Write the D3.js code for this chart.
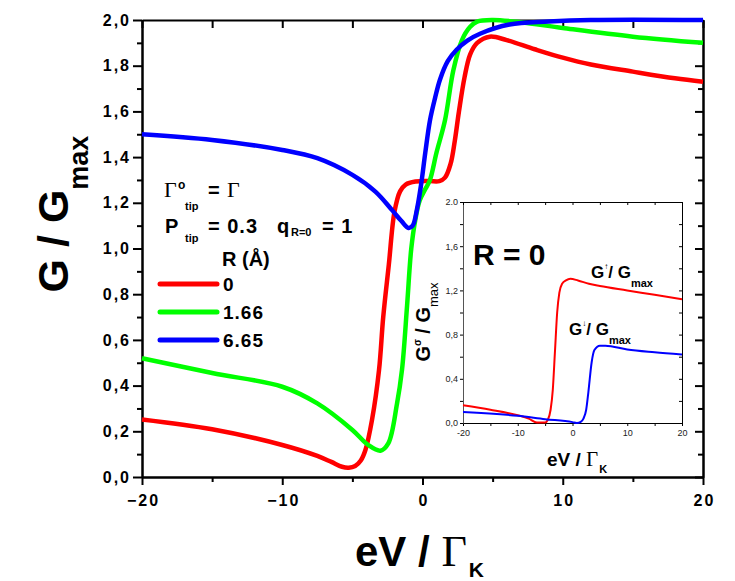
<!DOCTYPE html>
<html>
<head>
<meta charset="utf-8">
<script src="https://cdn.jsdelivr.net/npm/d3@7"></script>
<style>
  body { margin: 0; background: #fff; }
  svg { display: block; }
  text { font-family: "Liberation Sans", Arial, sans-serif; }
</style>
</head>
<body>
<div id="chart"></div>
<script>
// main panel: G / Gmax vs eV / Gamma_K for three tip distances R
const evR0   = [-20, -15, -10, -7.5, -6.5, -5.74, -5.26, -4.8, -4.4, -4.07, -3.6, -3.1, -2.8, -2.4, -2.0, -1.6, -1.2, -0.5, 0.5, 1.2, 1.6, 2.0, 2.3, 2.6, 3.0, 3.4, 3.9, 4.8, 6, 8, 10, 12, 15, 18, 20];
const gR0    = [0.252, 0.209, 0.14, 0.092, 0.066, 0.045, 0.041, 0.048, 0.072, 0.118, 0.25, 0.468, 0.70, 0.93, 1.16, 1.25, 1.28, 1.293, 1.295, 1.295, 1.31, 1.37, 1.47, 1.60, 1.75, 1.85, 1.90, 1.927, 1.912, 1.872, 1.835, 1.805, 1.774, 1.745, 1.73];

const evR166 = [-20, -15, -10, -7.5, -5, -3.87, -3.0, -2.44, -1.82, -1.46, -1.1, -0.8, -0.5, -0.2, 0.2, 0.53, 1.0, 1.6, 2.2, 2.8, 3.4, 3.9, 5, 7, 10, 15, 20];
const gR166  = [0.52, 0.455, 0.395, 0.322, 0.206, 0.14, 0.115, 0.147, 0.32, 0.47, 0.75, 1.0, 1.13, 1.21, 1.26, 1.30, 1.42, 1.56, 1.78, 1.91, 1.97, 1.993, 2.0, 1.99, 1.965, 1.927, 1.90];

const evR665 = [-20, -15, -10, -7.5, -5, -3.36, -2.17, -1.5, -1.0, -0.7, -0.4, -0.1, 0.2, 0.53, 0.9, 1.25, 1.8, 2.43, 3.2, 4.1, 6.2, 9, 12, 20];
const gR665  = [1.50, 1.475, 1.431, 1.395, 1.322, 1.249, 1.168, 1.12, 1.09, 1.10, 1.17, 1.28, 1.42, 1.56, 1.66, 1.74, 1.82, 1.87, 1.91, 1.94, 1.98, 1.993, 2.0, 2.0];

// inset: spin resolved conductance at R = 0
const evUp   = [-20, -15, -10, -8, -6.5, -5, -4.5, -4, -3.6, -3.2, -2.8, -2.4, -1.9, -1.2, -0.4, 1, 3, 5, 10, 15, 20];
const gUp    = [0.16, 0.12, 0.07, 0.04, 0.005, 0.005, 0.03, 0.12, 0.30, 0.65, 1.0, 1.18, 1.26, 1.29, 1.305, 1.29, 1.26, 1.24, 1.20, 1.16, 1.12];
const evDown = [-20, -10, -5, 0, 0.8, 1.5, 2, 2.5, 2.9, 3.5, 4, 5, 6, 10, 15, 20];
const gDown  = [0.10, 0.065, 0.035, 0.008, 0.0, 0.01, 0.04, 0.12, 0.28, 0.55, 0.66, 0.70, 0.70, 0.665, 0.64, 0.62];

const seriesNames  = ["0", "1.66", "6.65"];
const seriesColors = ["#ff0000", "#00ff00", "#0000ff"];
const yTicks = [0, 0.2, 0.4, 0.6, 0.8, 1.0, 1.2, 1.4, 1.6, 1.8, 2.0];
const xTicks = [-20, -10, 0, 10, 20];
const insetYTicks = [0, 0.4, 0.8, 1.2, 1.6, 2.0];

const width = 735, height = 581;
const svg = d3.select("#chart").append("svg")
  .attr("width", width).attr("height", height);

const x = d3.scaleLinear().domain([-20, 20]).range([142, 703]);
const y = d3.scaleLinear().domain([0, 2]).range([477, 20]);

const comma = d => d.toFixed(1).replace(".", ",");

function styleAxis(g, w) {
  g.select(".domain").attr("stroke", "#000").attr("stroke-width", w);
  g.selectAll(".tick line").attr("stroke", "#000").attr("stroke-width", w);
}

// main axes
const minorY = d3.range(0.1, 2, 0.2);
const minorX = [-15, -5, 5, 15];

svg.append("g").attr("transform", "translate(0,477)")
  .call(d3.axisBottom(x).tickValues(minorX).tickSize(5).tickSizeOuter(0).tickFormat(""))
  .call(g => styleAxis(g, 2));
svg.append("g").attr("transform", "translate(0,477)")
  .call(d3.axisBottom(x).tickValues(xTicks).tickSize(8).tickPadding(10).tickSizeOuter(0).tickFormat(d3.format("d")))
  .call(g => styleAxis(g, 2))
  .call(g => g.selectAll("text").attr("font-size", 16).attr("font-weight", "bold").attr("fill", "#000")
    .attr("letter-spacing", 2).attr("dx", 1));

svg.append("g").attr("transform", "translate(142,0)")
  .call(d3.axisLeft(y).tickValues(minorY).tickSize(5).tickSizeOuter(0).tickFormat(""))
  .call(g => styleAxis(g, 2));
svg.append("g").attr("transform", "translate(142,0)")
  .call(d3.axisLeft(y).tickValues(yTicks).tickSize(9).tickPadding(2).tickSizeOuter(0).tickFormat(comma))
  .call(g => styleAxis(g, 2))
  .call(g => g.selectAll("text").attr("font-size", 16).attr("font-weight", "bold").attr("fill", "#000")
    .attr("letter-spacing", 2));

svg.append("g").attr("transform", "translate(0,20)")
  .call(d3.axisTop(x).tickValues(d3.range(-20, 21, 5)).tickSize(-8).tickSizeOuter(0).tickFormat(""))
  .call(g => styleAxis(g, 2));
svg.append("g").attr("transform", "translate(703,0)")
  .call(d3.axisRight(y).tickValues(yTicks).tickSize(-8).tickSizeOuter(0).tickFormat(""))
  .call(g => styleAxis(g, 2));
svg.append("g").attr("transform", "translate(703,0)")
  .call(d3.axisRight(y).tickValues(minorY).tickSize(-5).tickSizeOuter(0).tickFormat(""))
  .call(g => styleAxis(g, 2));

// main curves
const line = d3.line().x(d => x(d[0])).y(d => y(d[1])).curve(d3.curveCatmullRom.alpha(0.5));
const mainSeries = [d3.zip(evR0, gR0), d3.zip(evR166, gR166), d3.zip(evR665, gR665)];
svg.append("g").selectAll("path")
  .data(mainSeries)
  .enter().append("path")
  .attr("d", line)
  .attr("fill", "none")
  .attr("stroke", (d, i) => seriesColors[i])
  .attr("stroke-width", 4.5)
  .attr("stroke-linejoin", "round");

// axis titles
const yt = svg.append("text")
  .attr("transform", "translate(68,214) rotate(-90)")
  .attr("text-anchor", "middle")
  .attr("font-weight", "bold");
yt.append("tspan").attr("font-size", 43).text("G / G");
yt.append("tspan").attr("font-size", 27).attr("dy", 20).text("max");

const xt = svg.append("text").attr("x", 355).attr("y", 566).attr("font-weight", "bold");
xt.append("tspan").attr("font-size", 42).text("eV / ");
xt.append("tspan").attr("font-size", 44).attr("font-weight", "normal")
  .style("font-family", "'Liberation Serif', serif").text("Γ");
xt.append("tspan").attr("font-size", 21).attr("dy", 11).attr("dx", 2).text("K");

// parameter text
const serif = "'Liberation Serif', serif";
const p1 = svg.append("text").attr("y", 197).attr("font-weight", "bold").attr("font-size", 20);
p1.append("tspan").attr("x", 164).style("font-family", serif).attr("font-weight", "normal").attr("font-size", 22).text("Γ");
p1.append("tspan").attr("x", 178).attr("font-size", 12).attr("dy", -8).text("o");
p1.append("tspan").attr("x", 185).attr("font-size", 11).attr("dy", 21).text("tip");
p1.append("tspan").attr("x", 208).attr("dy", -13).text("=");
p1.append("tspan").attr("x", 227).style("font-family", serif).attr("font-weight", "normal").attr("font-size", 22).text("Γ");

const p2 = svg.append("text").attr("y", 233).attr("font-weight", "bold").attr("font-size", 20);
p2.append("tspan").attr("x", 165).text("P");
p2.append("tspan").attr("x", 185).attr("font-size", 11).attr("dy", 9).text("tip");
p2.append("tspan").attr("x", 208).attr("dy", -9).attr("letter-spacing", 1).text("= 0.3");
p2.append("tspan").attr("x", 277).text("q");
p2.append("tspan").attr("x", 291).attr("font-size", 11).attr("dy", 3).text("R=0");
p2.append("tspan").attr("x", 322).attr("dy", -3).attr("letter-spacing", 1).text("= 1");

svg.append("text").attr("x", 222).attr("y", 266)
  .attr("font-weight", "bold").attr("font-size", 20).text("R (Å)");

// legend
const legend = svg.append("g").selectAll("g")
  .data(seriesNames)
  .enter().append("g")
  .attr("transform", (d, i) => `translate(0,${284 + i * 28})`);
legend.append("line")
  .attr("x1", 160).attr("x2", 217).attr("y1", 0).attr("y2", 0)
  .attr("stroke", (d, i) => seriesColors[i])
  .attr("stroke-width", 5).attr("stroke-linecap", "round");
legend.append("text")
  .attr("x", 223).attr("y", 7)
  .attr("font-weight", "bold").attr("font-size", 19).attr("letter-spacing", 1)
  .text(d => d);

// inset
const xi = d3.scaleLinear().domain([-20, 20]).range([463, 682]);
const yi = d3.scaleLinear().domain([0, 2]).range([423, 202]);
const inset = svg.append("g");
inset.append("rect").attr("x", 463).attr("y", 202).attr("width", 219).attr("height", 221).attr("fill", "#fff");

function styleInset(g) {
  g.select(".domain").attr("stroke", "#000").attr("stroke-width", 1);
  g.selectAll(".tick line").attr("stroke", "#000").attr("stroke-width", 1);
  g.selectAll("text").attr("font-size", 9).attr("fill", "#222");
}
inset.append("g").attr("transform", "translate(0,423)")
  .call(d3.axisBottom(xi).tickValues(d3.range(-20, 21, 5)).tickSize(3).tickPadding(4).tickSizeOuter(0)
    .tickFormat(d => d % 10 === 0 ? d : ""))
  .call(styleInset);
inset.append("g").attr("transform", "translate(463,0)")
  .call(d3.axisLeft(yi).tickValues(d3.range(0, 2.01, 0.2)).tickSize(3).tickPadding(2).tickSizeOuter(0)
    .tickFormat(d => {
      const v = Math.round(d * 10) / 10;
      if (!insetYTicks.includes(v)) return "";
      return v === 2 ? "2.0" : comma(v);
    }))
  .call(styleInset)
  .call(g => g.select(".domain").attr("stroke", "#555"));
inset.append("g").attr("transform", "translate(0,202)")
  .call(d3.axisTop(xi).tickValues(d3.range(-20, 21, 5)).tickSize(-3).tickSizeOuter(0).tickFormat(""))
  .call(styleInset);
inset.append("g").attr("transform", "translate(682,0)")
  .call(d3.axisRight(yi).tickValues(d3.range(0, 2.01, 0.2)).tickSize(-3).tickSizeOuter(0).tickFormat(""))
  .call(styleInset);

const iline = d3.line().x(d => xi(d[0])).y(d => yi(d[1])).curve(d3.curveMonotoneX);
inset.append("g").selectAll("path")
  .data([d3.zip(evUp, gUp), d3.zip(evDown, gDown)])
  .enter().append("path")
  .attr("d", iline)
  .attr("fill", "none")
  .attr("stroke", (d, i) => i === 0 ? "#ff0000" : "#0000ff")
  .attr("stroke-width", 2);

inset.append("text").attr("x", 473).attr("y", 265)
  .attr("font-weight", "bold").attr("font-size", 30).text("R = 0");

const lu = inset.append("text").attr("x", 591).attr("y", 278).attr("font-weight", "bold").attr("font-size", 17);
lu.append("tspan").text("G");
lu.append("tspan").attr("font-size", 8).attr("dy", -9).text("↑");
lu.append("tspan").attr("dy", 9).text("/ G");
lu.append("tspan").attr("font-size", 11).attr("dy", 9).text("max");

const ld = inset.append("text").attr("x", 569).attr("y", 335).attr("font-weight", "bold").attr("font-size", 17);
ld.append("tspan").text("G");
ld.append("tspan").attr("font-size", 8).attr("dy", -9).text("↓");
ld.append("tspan").attr("dy", 9).text("/ G");
ld.append("tspan").attr("font-size", 11).attr("dy", 9).text("max");

const iyt = inset.append("text")
  .attr("transform", "translate(430,322) rotate(-90)")
  .attr("text-anchor", "middle")
  .attr("font-weight", "bold");
iyt.append("tspan").attr("font-size", 20).text("G");
iyt.append("tspan").attr("font-size", 10).attr("dy", -9).text("σ");
iyt.append("tspan").attr("font-size", 20).attr("dy", 9).text(" / G");
iyt.append("tspan").attr("font-size", 13).attr("font-weight", "normal").attr("dy", 8).text("max");

const ixt = inset.append("text").attr("x", 547).attr("y", 466).attr("font-weight", "bold");
ixt.append("tspan").attr("font-size", 19).text("eV / ");
ixt.append("tspan").attr("font-size", 21).attr("font-weight", "normal")
  .style("font-family", "'Liberation Serif', serif").text("Γ");
ixt.append("tspan").attr("font-size", 11).attr("dy", 7).attr("dx", 1).text("K");
</script>
</body>
</html>
